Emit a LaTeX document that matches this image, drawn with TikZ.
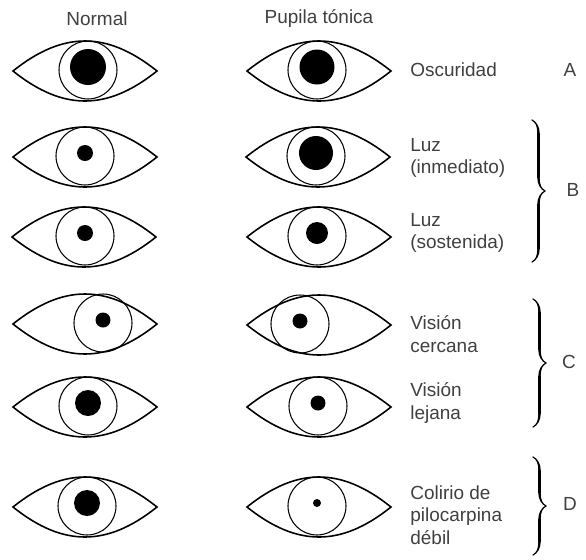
\documentclass[tikz,border=0pt]{standalone}
\usepackage{fontspec}
\setmainfont{Liberation Sans}
\usetikzlibrary{calc,positioning,decorations.pathreplacing,calligraphy}

\tikzset{
  lid/.style={line width=0.9pt},
  iris/.style={circle, draw, line width=0.6pt, inner sep=0pt, minimum size=58*0.02cm},
  pupil/.style={circle, fill=black, inner sep=0pt, minimum size=#1*0.02cm},
  txt/.style={font=\fontsize{10.8}{12.8}\selectfont, text=black!75, inner sep=0pt},
  caption/.style={txt, anchor=west, align=left},
  group/.style={decorate, decoration={calligraphic brace, amplitude=0.26cm},
    line width=1.4pt, pen colour=black},
}

% one eye: name, centre, shift of the iris, pupil diameter
\newcommand{\eye}[4]{
  \draw[lid, shift={#2}] (-72,0) .. controls (-22,-40) and (22,-40) .. (72,0)
    .. controls (22,40) and (-22,40) .. cycle;
  \node[iris] (#1-iris) at ($#2+(#3,-1)$) {};
  \node[pupil=#4] (#1-pupil) at ($(#1-iris)+(0,-3)$) {};
}

\begin{document}
\begin{tikzpicture}[x=0.02cm, y=-0.02cm]
  \useasboundingbox (0,0) rectangle (586,559);

  % column heads
  \node[txt] (normal) at (97,19) {Normal};
  \node[txt] (tonic) at (319,18) {Pupila tónica};

  % left column: normal pupil
  \eye{n1}{(85,71)}{3}{36}
  \eye{n2}{(85,157)}{0}{16}
  \eye{n3}{(84,237)}{1}{16}
  \eye{n4}{(85,324)}{18}{15}
  \eye{n5}{(85,407)}{3}{26}
  \eye{n6}{(85,507)}{2}{26}

  % right column: tonic pupil
  \eye{t1}{(319,71)}{-2}{35}
  \eye{t2}{(318,157)}{-2}{34}
  \eye{t3}{(319,237)}{-2}{22}
  \eye{t4}{(319,325)}{-19}{15}
  \eye{t5}{(319,407)}{-1}{15}
  \eye{t6}{(319,507)}{-2}{8}

  % conditions
  \node[caption] (dark) at (410,70) {Oscuridad};
  \node[caption] (light1) at (410,158) {Luz\\(inmediato)};
  \node[caption] (light2) at (410,233) {Luz\\(sostenida)};
  \node[caption] (near) at (410,334) {Visión\\cercana};
  \node[caption] (far) at (410,403) {Visión\\lejana};
  \node[caption] (drops) at (410,515) {Colirio de\\pilocarpina\\débil};

  % groups
  \coordinate (b-top) at (532,120);
  \coordinate (b-bot) at (532,262);
  \coordinate (c-top) at (533,299);
  \coordinate (c-bot) at (533,427);
  \coordinate (d-top) at (533,457);
  \coordinate (d-bot) at (533,555);
  \draw[group] (b-top) -- (b-bot);
  \draw[group] (c-top) -- (c-bot);
  \draw[group] (d-top) -- (d-bot);

  \node[txt] (A) at (570,70) {A};
  \node[txt] (B) at (573,190) {B};
  \node[txt] (C) at (569,362) {C};
  \node[txt] (D) at (570,504) {D};
\end{tikzpicture}
\end{document}
